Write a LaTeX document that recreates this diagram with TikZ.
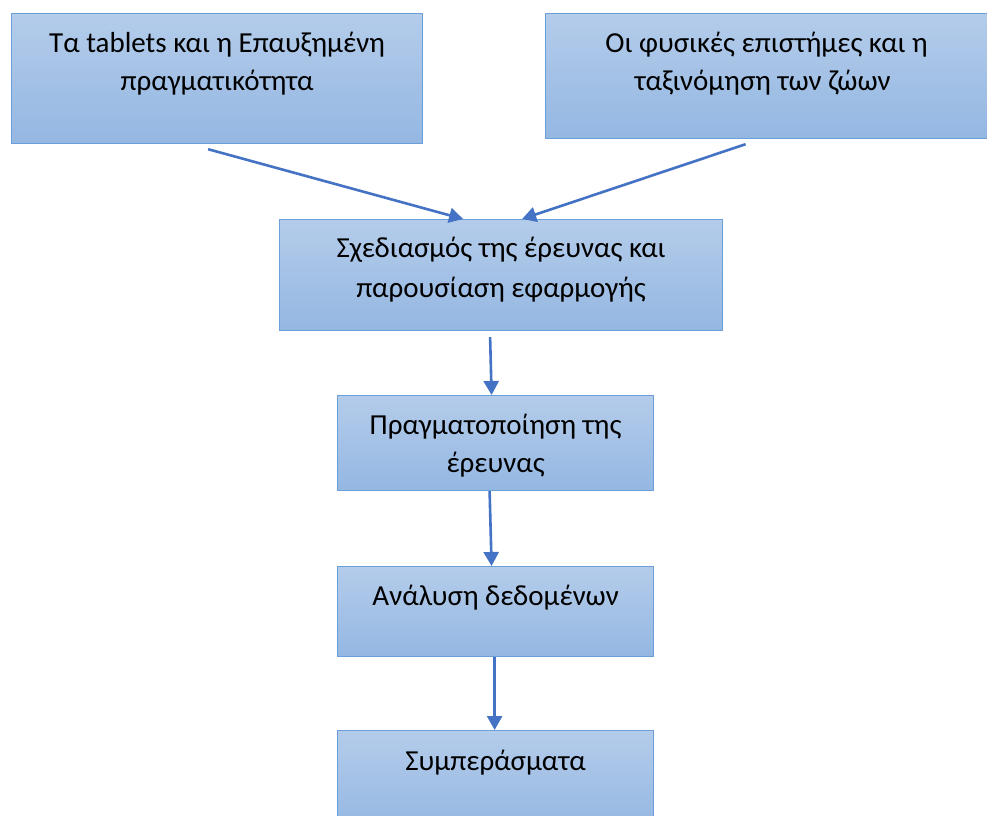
\documentclass[tikz,border=0pt]{standalone}
\usepackage{fontspec}
\setmainfont{Carlito}
\usepackage{xcolor}
\usetikzlibrary{arrows.meta}
\definecolor{boxtop}{HTML}{B4CCEA}
\definecolor{boxbot}{HTML}{94B7E2}
\definecolor{boxline}{HTML}{6A9FD9}
\definecolor{arrowblue}{HTML}{4472C4}
\newcommand{\boxtext}[4]{\parbox[c][#2pt][t]{#1pt}{\centering\vspace*{#3pt}#4}}

\begin{document}
\begin{tikzpicture}[x=1pt, y=-1pt,
    box/.style={rectangle, draw=boxline, line width=1.2pt, top color=boxtop, bottom color=boxbot,
        inner sep=0pt, anchor=north west, font=\fontsize{29}{38}\selectfont},
    arrow/.style={-{Triangle[length=14pt,width=15pt]}, draw=arrowblue, line width=2.6pt}
]
\clip (0,0) rectangle (987,815);
\node[box] (tablets) at (11,13) {\boxtext{411}{130}{18}{Τα tablets και η Επαυξημένη\\πραγματικότητα}};
\node[box] (physics) at (545,13) {\boxtext{450}{125}{18}{\hspace*{-8pt}Οι φυσικές επιστήμες και η\hspace*{8pt}\\\hspace*{-8pt}ταξινόμηση των ζώων\hspace*{8pt}}};
\node[box] (design) at (279,219) {\boxtext{443}{111}{17}{Σχεδιασμός της έρευνας και\\[2pt]παρουσίαση εφαρμογής}};
\node[box] (conduct) at (337,395) {\boxtext{316}{95}{18}{Πραγματοποίηση της\\έρευνας}};
\node[box] (analysis) at (337,566) {\boxtext{316}{90}{18}{Ανάλυση δεδομένων}};
\node[box] (results) at (337,730) {\boxtext{316}{100}{19}{Συμπεράσματα}};

\draw[arrow] ([shift={(-9,5)}]tablets.south) -- ([xshift=-38]design.north);
\draw[arrow] ([shift={(-25,5)}]physics.south) -- ([xshift=21]design.north);
\draw[arrow] ([shift={(-11,6)}]design.south) -- ([xshift=-4]conduct.north);
\draw[arrow] ([xshift=-6]conduct.south) -- ([xshift=-4]analysis.north);
\draw[arrow] ([xshift=-1]analysis.south) -- ([xshift=-1]results.north);
\end{tikzpicture}
\end{document}
